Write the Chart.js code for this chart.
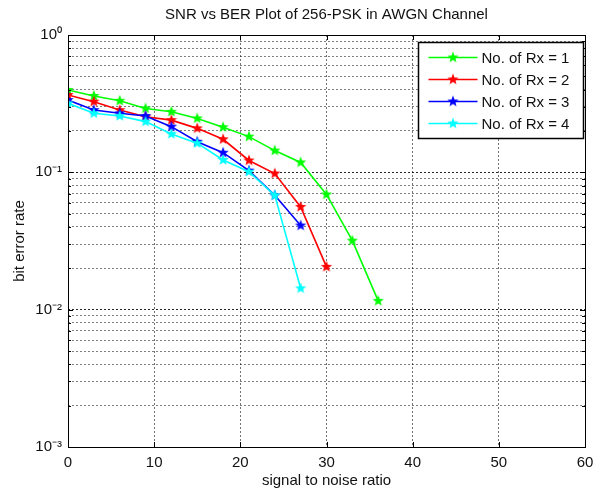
<!DOCTYPE html>
<html>
<head>
<meta charset="utf-8">
<title>SNR vs BER</title>
<script src="https://cdn.jsdelivr.net/npm/chart.js@4.4.1/dist/chart.umd.min.js"></script>
<style>
  html, body { margin: 0; padding: 0; background: #fff; }
  canvas { display: block; }
</style>
</head>
<body>
<canvas id="berChart" width="605" height="495"></canvas>
<script>
// SNR points (dB) per receiver count
const snrRx1 = [0, 3, 6, 9, 12, 15, 18, 21, 24, 27, 30, 33, 36];
const snrRx2 = [0, 3, 6, 9, 12, 15, 18, 21, 24, 27, 30];
const snrRx3 = [0, 3, 6, 9, 12, 15, 18, 21, 24, 27];
const snrRx4 = [0, 3, 6, 9, 12, 15, 18, 21, 24, 27];

// measured bit error rates
const berRx1 = [0.398, 0.36, 0.332, 0.292, 0.276, 0.247, 0.213, 0.182, 0.144, 0.118, 0.069, 0.0318, 0.0116];
const berRx2 = [0.366, 0.327, 0.284, 0.254, 0.240, 0.209, 0.174, 0.122, 0.098, 0.056, 0.0205];
const berRx3 = [0.336, 0.284, 0.269, 0.257, 0.215, 0.167, 0.139, 0.103, 0.068, 0.041];
const berRx4 = [0.318, 0.269, 0.257, 0.234, 0.190, 0.163, 0.123, 0.101, 0.068, 0.0143];

const seriesLabels = ['No. of Rx = 1', 'No. of Rx = 2', 'No. of Rx = 3', 'No. of Rx = 4'];
const seriesColors = ['#00ff00', '#ff0000', '#0000ff', '#00ffff'];

const xTicks = [0, 10, 20, 30, 40, 50, 60];
const yDecades = [-3, -2, -1, 0];

const plotTitle = 'SNR vs BER Plot of 256-PSK in AWGN Channel';

const FONT = "'Liberation Sans', Arial, sans-serif";
const superDigits = { '-': '⁻', '0': '⁰', '1': '¹', '2': '²', '3': '³' };

// filled pentagram used as marker
function starMarker(color, r) {
  const size = Math.ceil(r * 2 + 2);
  const c = document.createElement('canvas');
  c.width = size; c.height = size;
  const g = c.getContext('2d');
  const cx = size / 2, cy = size / 2, ri = r * 0.42;
  g.beginPath();
  for (let i = 0; i < 10; i++) {
    const rad = i % 2 === 0 ? r : ri;
    const a = -Math.PI / 2 + i * Math.PI / 5;
    const px = cx + rad * Math.cos(a), py = cy + rad * Math.sin(a);
    if (i === 0) g.moveTo(px, py); else g.lineTo(px, py);
  }
  g.closePath();
  g.fillStyle = color;
  g.fill();
  return c;
}

function toPoints(xs, ys) {
  return xs.map((x, i) => ({ x: x, y: ys[i] }));
}

const allSnr = [snrRx1, snrRx2, snrRx3, snrRx4];
const allBer = [berRx1, berRx2, berRx3, berRx4];

const datasets = seriesLabels.map((label, i) => {
  const marker = starMarker(seriesColors[i], 6);
  return {
    label: label,
    data: toPoints(allSnr[i], allBer[i]),
    borderColor: seriesColors[i],
    backgroundColor: seriesColors[i],
    borderWidth: 1.6,
    pointStyle: marker,
    pointRadius: 6,
    tension: 0,
    order: seriesLabels.length - i // later series on top
  };
});

// title centred over the axes rather than the whole canvas
const axesTitle = {
  id: 'axesTitle',
  afterDraw(chart) {
    const { ctx, chartArea: a } = chart;
    ctx.save();
    ctx.font = '15px ' + FONT;
    ctx.fillStyle = '#111';
    ctx.textAlign = 'center';
    ctx.textBaseline = 'middle';
    ctx.fillText(plotTitle, (a.left + a.right) / 2, 15);
    ctx.restore();
  }
};

// box around the axes plus inward tick marks
const axesFrame = {
  id: 'axesFrame',
  afterDraw(chart) {
    const { ctx, chartArea: a, scales } = chart;
    ctx.save();
    ctx.strokeStyle = '#000';
    ctx.lineWidth = 1;
    ctx.beginPath();
    scales.y.ticks.forEach(t => {
      const py = Math.round(scales.y.getPixelForValue(t.value)) + 0.5;
      const len = Number.isInteger(Math.log10(t.value)) ? 5 : 3;
      ctx.moveTo(a.left, py); ctx.lineTo(a.left + len, py);
      ctx.moveTo(a.right, py); ctx.lineTo(a.right - len, py);
    });
    scales.x.ticks.forEach(t => {
      const px = Math.round(scales.x.getPixelForValue(t.value)) + 0.5;
      ctx.moveTo(px, a.bottom); ctx.lineTo(px, a.bottom - 5);
      ctx.moveTo(px, a.top); ctx.lineTo(px, a.top + 5);
    });
    ctx.stroke();
    ctx.strokeRect(Math.round(a.left) + 0.5, Math.round(a.top) + 0.5,
      Math.round(a.right - a.left), Math.round(a.bottom - a.top));
    ctx.restore();
  }
};

// legend drawn inside the plot, top right, with a border
const insideLegend = {
  id: 'insideLegend',
  afterDraw(chart) {
    const { ctx, chartArea: a } = chart;
    const dsList = chart.data.datasets;
    const w = 165, rowH = 22;
    const x0 = Math.round(a.right - w - 2) + 0.5;
    const y0 = Math.round(a.top + 7) + 0.5;
    const h = 96;
    ctx.save();
    ctx.fillStyle = '#fff';
    ctx.fillRect(x0, y0, w, h);
    ctx.strokeStyle = '#000';
    ctx.lineWidth = 1.5;
    ctx.strokeRect(x0, y0, w, h);
    ctx.font = '15px ' + FONT;
    ctx.textBaseline = 'middle';
    dsList.forEach((ds, i) => {
      const y = y0 + 15 + i * rowH;
      ctx.strokeStyle = ds.borderColor;
      ctx.lineWidth = ds.borderWidth;
      ctx.beginPath();
      ctx.moveTo(x0 + 10, y);
      ctx.lineTo(x0 + 59, y);
      ctx.stroke();
      const m = ds.pointStyle;
      ctx.drawImage(m, x0 + 34.5 - m.width / 2, y - m.height / 2);
      ctx.fillStyle = '#111';
      ctx.fillText(ds.label, x0 + 63, y + 1);
    });
    ctx.restore();
  }
};

new Chart(document.getElementById('berChart'), {
  type: 'line',
  data: { datasets: datasets },
  plugins: [axesFrame, insideLegend, axesTitle],
  options: {
    responsive: false,
    animation: false,
    layout: { padding: { left: 0, right: 20, top: 35, bottom: 0 } },
    plugins: {
      legend: { display: false },
      tooltip: { enabled: false },
      title: { display: false }
    },
    scales: {
      x: {
        type: 'linear',
        min: 0,
        max: 60,
        afterBuildTicks(scale) {
          scale.ticks = xTicks.map(v => ({ value: v }));
        },
        afterFit(scale) { scale.height = 48; },
        border: { display: false, dash: [2, 2] },
        grid: {
          color: 'rgba(0,0,0,0.55)',
          lineWidth: 1,
          drawTicks: false
        },
        ticks: {
          color: '#111',
          padding: 7,
          maxRotation: 0,
          autoSkip: false,
          font: { family: FONT, size: 15 }
        },
        title: {
          display: true,
          text: 'signal to noise ratio',
          color: '#111',
          font: { family: FONT, size: 15 },
          padding: { top: 0, bottom: 5 }
        }
      },
      y: {
        type: 'logarithmic',
        min: 1e-3,
        max: 1,
        afterBuildTicks(scale) {
          const t = [];
          yDecades.forEach(k => {
            if (k === 0) { t.push({ value: 1 }); return; }
            for (let m = 1; m <= 9; m++) t.push({ value: m * Math.pow(10, k) });
          });
          scale.ticks = t;
        },
        afterFit(scale) { scale.width = 68; },
        border: { display: false, dash: [2, 2] },
        grid: {
          color: ctx => {
            const v = ctx.tick ? ctx.tick.value : 0;
            return Number.isInteger(Math.round(Math.log10(v) * 1e6) / 1e6) ? 'rgba(0,0,0,0.85)' : 'rgba(0,0,0,0.5)';
          },
          lineWidth: 1,
          drawTicks: false
        },
        ticks: {
          color: '#111',
          padding: 6,
          autoSkip: false,
          font: { family: FONT, size: 15 },
          callback(value) {
            const e = Math.log10(value);
            const r = Math.round(e);
            if (Math.abs(e - r) > 1e-9) return '';
            return '10' + String(r).split('').map(ch => superDigits[ch]).join('');
          }
        },
        title: {
          display: true,
          text: 'bit error rate',
          color: '#111',
          font: { family: FONT, size: 15 },
          padding: { top: 11, bottom: 0 }
        }
      }
    }
  }
});
</script>
</body>
</html>
